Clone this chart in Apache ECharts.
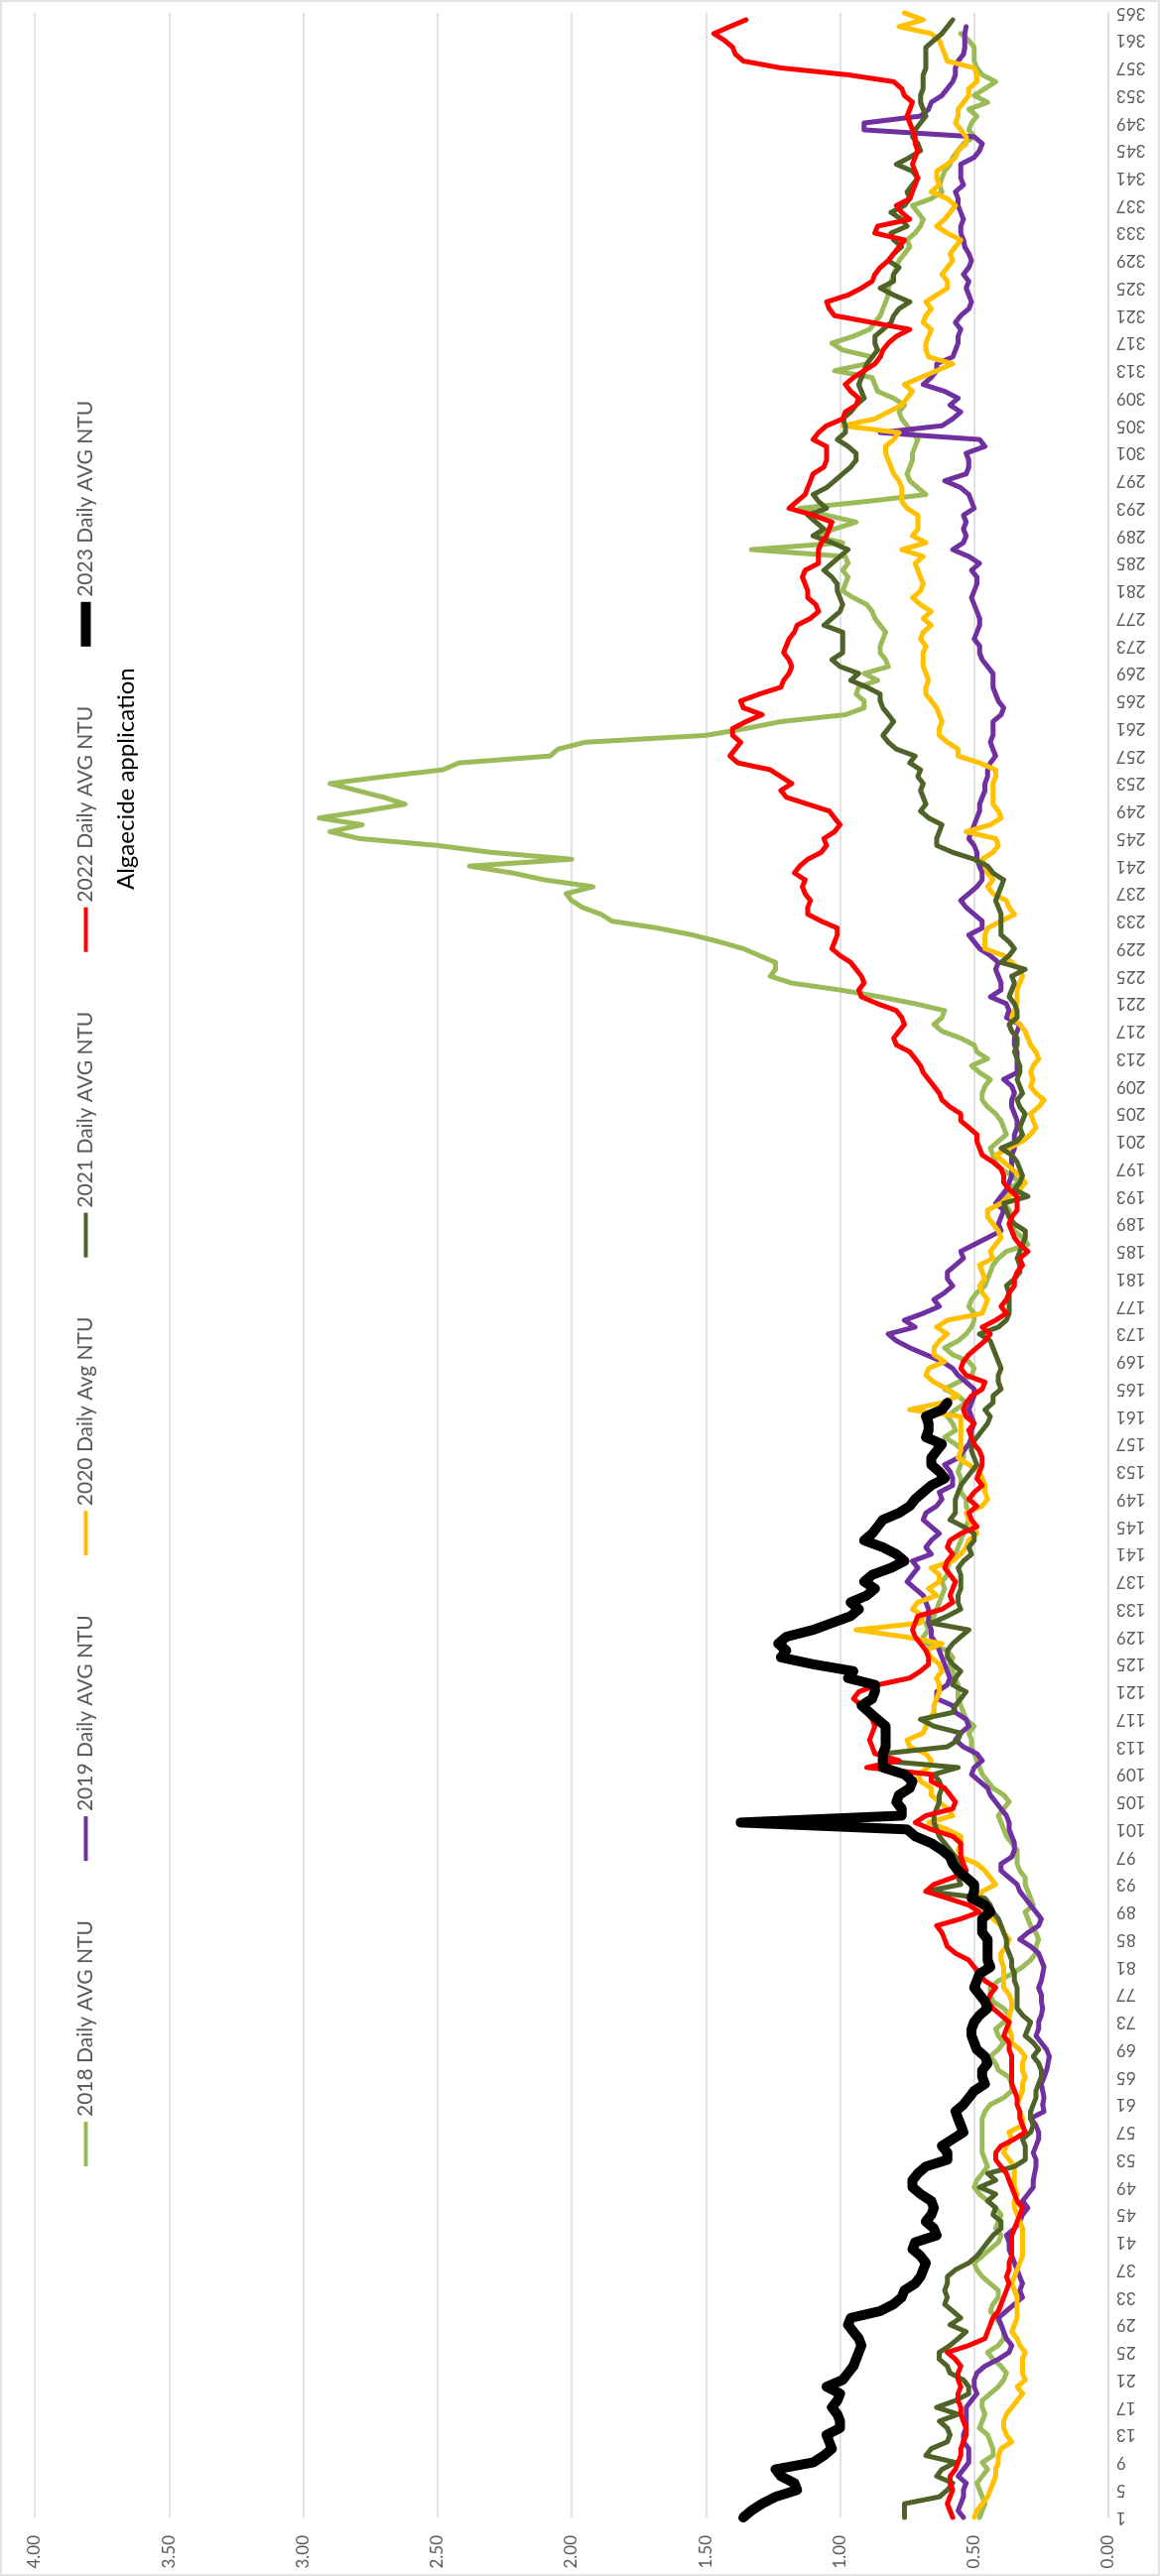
<!DOCTYPE html>
<html>
<head>
<meta charset="utf-8">
<title>Daily AVG NTU</title>
<script src="https://cdn.jsdelivr.net/npm/echarts@6/dist/echarts.min.js"></script>
<style>
  html, body { margin: 0; padding: 0; width: 1169px; height: 2597px; overflow: hidden; background: #fff; }
  /* chart is drawn landscape, then turned a quarter to the left like the source picture */
  #chart {
    position: absolute; left: 0; top: 0;
    width: 2597px; height: 1169px;
    transform-origin: 0 0;
    transform: translate(0, 2597px) rotate(-90deg);
  }
</style>
</head>
<body>
<div id="chart"></div>
<script>
// day of year, 1..365 (category axis)
const days = []
for (let d = 1; d <= 365; d++) days.push(String(d))

// daily average turbidity (NTU), 10 days per row
const ntu2018 = [
  0.48,0.47,0.46,0.47,0.48,0.49,0.47,0.45,0.47,0.43,
  0.43,0.44,0.45,0.48,0.47,0.46,0.47,0.47,0.44,0.41,
  0.39,0.38,0.40,0.43,0.45,0.41,0.39,0.39,0.40,0.42,
  0.44,0.43,0.41,0.41,0.44,0.47,0.49,0.50,0.47,0.44,
  0.41,0.40,0.42,0.41,0.40,0.42,0.45,0.48,0.50,0.49,
  0.47,0.45,0.46,0.47,0.47,0.47,0.47,0.47,0.47,0.46,
  0.44,0.39,0.36,0.36,0.37,0.41,0.42,0.44,0.41,0.39,
  0.41,0.42,0.39,0.37,0.39,0.43,0.44,0.44,0.41,0.36,
  0.32,0.29,0.27,0.27,0.26,0.27,0.29,0.30,0.31,0.28,
  0.29,0.30,0.31,0.31,0.33,0.34,0.34,0.34,0.36,0.38,
  0.39,0.40,0.41,0.39,0.37,0.39,0.43,0.45,0.47,0.48,
  0.49,0.50,0.51,0.51,0.52,0.50,0.53,0.54,0.55,0.56,
  0.56,0.56,0.57,0.58,0.59,0.58,0.60,0.68,0.69,0.67,
  0.68,0.65,0.64,0.63,0.62,0.61,0.62,0.60,0.60,0.59,
  0.57,0.56,0.55,0.54,0.53,0.52,0.52,0.53,0.53,0.55,
  0.55,0.55,0.56,0.55,0.54,0.54,0.57,0.61,0.57,0.58,
  0.60,0.57,0.53,0.56,0.61,0.56,0.51,0.50,0.52,0.58,
  0.61,0.56,0.53,0.51,0.50,0.50,0.52,0.51,0.49,0.46,
  0.45,0.44,0.43,0.41,0.38,0.30,0.32,0.35,0.36,0.36,
  0.37,0.39,0.38,0.38,0.33,0.36,0.40,0.42,0.43,0.44,
  0.41,0.38,0.39,0.40,0.42,0.45,0.47,0.47,0.46,0.44,
  0.48,0.51,0.45,0.49,0.50,0.55,0.62,0.65,0.62,0.61,
  0.72,0.85,1.00,1.18,1.26,1.24,1.24,1.30,1.36,1.45,
  1.55,1.68,1.85,1.89,1.96,2.00,2.02,1.92,2.10,2.22,
  2.38,2.00,2.30,2.50,2.79,2.90,2.78,2.94,2.77,2.62,
  2.70,2.80,2.90,2.70,2.48,2.42,2.08,2.05,1.95,1.50,
  1.35,1.22,0.98,0.91,0.91,0.94,0.93,0.86,0.91,0.82,
  0.83,0.85,0.85,0.84,0.83,0.85,0.87,0.88,0.90,0.95,
  0.99,0.98,0.97,0.99,0.97,0.98,1.33,0.99,1.10,1.02,
  0.94,1.05,1.15,0.90,0.68,0.71,0.74,0.75,0.74,0.73,
  0.73,0.72,0.71,0.73,0.75,0.77,0.78,0.76,0.80,0.86,
  0.87,0.88,1.02,0.90,0.88,0.99,1.03,0.95,0.89,0.87,
  0.85,0.84,0.83,0.82,0.82,0.81,0.80,0.79,0.78,0.76,
  0.74,0.75,0.72,0.70,0.69,0.71,0.73,0.66,0.62,0.63,
  0.62,0.61,0.59,0.58,0.56,0.54,0.50,0.52,0.51,0.49,
  0.52,0.45,0.50,0.46,0.42,0.47,0.49,0.50,0.50,0.50,
  0.52,0.55,null,null,null
]

const ntu2019 = [
  0.54,0.56,0.55,0.54,0.54,0.53,0.56,0.54,0.52,0.52,
  0.52,0.54,0.54,0.53,0.53,0.53,0.53,0.51,0.49,0.50,
  0.50,0.49,0.46,0.41,0.37,0.36,0.38,0.39,0.40,0.41,
  0.38,0.35,0.32,0.33,0.32,0.33,0.34,0.35,0.36,0.37,
  0.37,0.38,0.35,0.33,0.32,0.30,0.32,0.30,0.28,0.28,
  0.275,0.27,0.27,0.28,0.27,0.26,0.26,0.27,0.29,0.24,
  0.245,0.24,0.245,0.25,0.24,0.23,0.225,0.22,0.23,0.25,
  0.27,0.26,0.26,0.25,0.245,0.25,0.25,0.26,0.25,0.245,
  0.24,0.25,0.26,0.29,0.33,0.30,0.26,0.25,0.27,0.29,
  0.31,0.33,0.34,0.37,0.40,0.40,0.36,0.35,0.35,0.36,
  0.37,0.37,0.38,0.40,0.42,0.44,0.45,0.48,0.51,0.50,
  0.47,0.49,0.54,0.57,0.55,0.52,0.53,0.57,0.58,0.64,
  0.64,0.60,0.59,0.60,0.61,0.62,0.63,0.64,0.66,0.66,
  0.67,0.67,0.67,0.68,0.69,0.72,0.75,0.73,0.71,0.73,
  0.66,0.68,0.66,0.63,0.66,0.69,0.68,0.64,0.62,0.63,
  0.58,0.58,0.59,0.61,0.56,0.54,0.52,0.51,0.51,0.50,
  0.51,0.52,0.51,0.50,0.50,0.53,0.56,0.58,0.62,0.68,
  0.74,0.79,0.82,0.72,0.76,0.69,0.63,0.65,0.61,0.58,
  0.60,0.60,0.57,0.54,0.55,0.50,0.45,0.40,0.41,0.40,
  0.39,0.42,0.40,0.38,0.37,0.36,0.36,0.36,0.36,0.35,
  0.35,0.35,0.34,0.34,0.35,0.36,0.36,0.35,0.36,0.39,
  0.34,0.34,0.34,0.34,0.35,0.35,0.34,0.33,0.38,0.37,
  0.38,0.44,0.40,0.40,0.41,0.42,0.41,0.44,0.48,0.50,
  0.52,0.47,0.47,0.50,0.53,0.55,0.52,0.49,0.47,0.47,
  0.48,0.49,0.49,0.50,0.52,0.51,0.50,0.49,0.48,0.48,
  0.47,0.46,0.46,0.45,0.45,0.44,0.42,0.43,0.44,0.43,
  0.43,0.43,0.40,0.39,0.41,0.42,0.43,0.43,0.43,0.45,
  0.47,0.48,0.48,0.50,0.49,0.48,0.48,0.49,0.50,0.51,
  0.50,0.49,0.49,0.51,0.48,0.52,0.58,0.54,0.53,0.54,
  0.53,0.54,0.50,0.51,0.52,0.55,0.61,0.53,0.52,0.52,
  0.53,0.46,0.48,0.85,0.62,0.58,0.55,0.59,0.56,0.61,
  0.69,0.66,0.64,0.64,0.58,0.57,0.56,0.56,0.55,0.57,
  0.55,0.52,0.51,0.52,0.53,0.52,0.54,0.52,0.51,0.52,
  0.535,0.54,0.55,0.55,0.54,0.55,0.56,0.56,0.57,0.54,
  0.55,0.55,0.55,0.50,0.48,0.47,0.50,0.91,0.91,0.70,
  0.67,0.66,0.62,0.60,0.58,0.57,0.57,0.56,0.54,0.535,
  0.535,0.535,0.53,null,null
]

const ntu2020 = [
  0.50,0.49,0.47,0.45,0.44,0.43,0.42,0.42,0.41,0.41,
  0.40,0.36,0.38,0.39,0.39,0.38,0.36,0.34,0.32,0.34,
  0.31,0.32,0.32,0.32,0.31,0.33,0.34,0.36,0.35,0.34,
  0.34,0.34,0.34,0.35,0.36,0.35,0.34,0.33,0.32,0.32,
  0.32,0.32,0.32,0.33,0.34,0.35,0.35,0.34,0.35,0.35,
  0.35,0.35,0.37,0.39,0.38,0.36,0.37,0.32,0.32,0.33,
  0.34,0.33,0.32,0.32,0.31,0.32,0.32,0.31,0.33,0.36,
  0.36,0.37,0.37,0.37,0.36,0.36,0.37,0.39,0.39,0.39,
  0.39,0.40,0.40,0.38,0.37,0.39,0.40,0.43,0.45,0.48,
  0.48,0.47,0.42,0.44,0.46,0.49,0.55,0.56,0.55,0.55,
  0.60,0.67,0.58,0.60,0.63,0.66,0.66,0.70,0.71,0.67,
  0.66,0.68,0.74,0.75,0.69,0.68,0.67,0.65,0.65,0.64,
  0.63,0.63,0.64,0.62,0.63,0.66,0.68,0.62,0.76,0.94,
  0.70,0.69,0.73,0.71,0.64,0.67,0.63,0.63,0.66,0.58,
  0.55,0.53,0.52,0.49,0.50,0.52,0.53,0.47,0.45,0.46,
  0.46,0.47,0.48,0.52,0.56,0.55,0.55,0.55,0.55,0.55,
  0.55,0.74,0.62,0.56,0.60,0.65,0.68,0.67,0.61,0.65,
  0.65,0.63,0.60,0.64,0.60,0.47,0.46,0.45,0.47,0.48,
  0.46,0.47,0.48,0.43,0.44,0.42,0.40,0.41,0.43,0.45,
  0.45,0.40,0.37,0.33,0.31,0.33,0.36,0.39,0.42,0.37,
  0.32,0.29,0.27,0.28,0.29,0.26,0.24,0.27,0.29,0.28,
  0.29,0.28,0.26,0.27,0.29,0.30,0.31,0.33,0.36,0.35,
  0.34,0.34,0.34,0.33,0.32,0.33,0.36,0.39,0.46,0.46,
  0.46,0.45,0.40,0.35,0.37,0.38,0.43,0.45,0.43,0.45,
  0.46,0.47,0.43,0.41,0.42,0.53,0.44,0.40,0.41,0.43,
  0.43,0.43,0.43,0.42,0.42,0.48,0.56,0.56,0.60,0.63,
  0.63,0.62,0.63,0.64,0.66,0.68,0.68,0.67,0.68,0.69,
  0.69,0.69,0.68,0.70,0.69,0.66,0.69,0.66,0.70,0.73,
  0.70,0.69,0.70,0.71,0.72,0.69,0.77,0.68,0.73,0.71,
  0.71,0.71,0.75,0.77,0.77,0.77,0.78,0.80,0.81,0.82,
  0.83,0.83,0.80,0.78,0.99,0.87,0.82,0.77,0.75,0.73,
  0.76,0.70,0.64,0.58,0.67,0.68,0.68,0.67,0.66,0.69,
  0.68,0.66,0.68,0.64,0.60,0.60,0.62,0.60,0.58,0.59,
  0.57,0.55,0.60,0.64,0.61,0.59,0.57,0.60,0.66,0.63,
  0.64,0.64,0.60,0.57,0.56,0.53,0.53,0.55,0.57,0.56,
  0.56,0.54,0.52,0.52,0.49,0.49,0.50,0.60,0.61,0.62,
  0.63,0.66,0.78,0.69,0.76
]

const ntu2021 = [
  0.76,0.76,0.76,0.63,0.60,0.58,0.64,0.62,0.57,0.68,
  0.66,0.60,0.59,0.60,0.63,0.56,0.64,0.57,0.52,0.52,
  0.54,0.59,0.60,0.63,0.63,0.59,0.56,0.53,0.59,0.55,
  0.58,0.61,0.60,0.61,0.60,0.60,0.57,0.52,0.49,0.47,
  0.45,0.43,0.40,0.40,0.43,0.42,0.45,0.42,0.48,0.42,
  0.45,0.35,0.31,0.31,0.31,0.32,0.29,0.28,0.29,0.29,
  0.28,0.27,0.27,0.26,0.25,0.25,0.26,0.28,0.26,0.28,
  0.31,0.30,0.29,0.32,0.34,0.34,0.34,0.34,0.35,0.35,
  0.36,0.36,0.37,0.38,0.38,0.39,0.40,0.41,0.43,0.44,
  0.46,0.68,0.55,0.56,0.53,0.55,0.57,0.59,0.61,0.63,
  0.64,0.65,0.65,0.64,0.63,0.63,0.62,0.63,0.65,0.56,
  0.85,0.84,0.60,0.56,0.55,0.65,0.70,0.58,0.57,0.55,
  0.53,0.58,0.57,0.55,0.58,0.60,0.60,0.58,0.55,0.52,
  0.66,0.60,0.55,0.56,0.56,0.55,0.55,0.55,0.56,0.54,
  0.51,0.52,0.50,0.50,0.54,0.59,0.57,0.57,0.57,0.56,
  0.55,0.53,0.51,0.49,0.50,0.51,0.51,0.49,0.47,0.45,
  0.44,0.46,0.43,0.43,0.40,0.41,0.41,0.40,0.41,0.42,
  0.43,0.44,0.48,0.41,0.38,0.37,0.37,0.37,0.37,0.38,
  0.35,0.33,0.33,0.34,0.33,0.32,0.31,0.31,0.35,0.37,
  0.38,0.39,0.30,0.35,0.33,0.32,0.33,0.34,0.36,0.40,
  0.34,0.32,0.33,0.32,0.31,0.33,0.34,0.32,0.33,0.34,
  0.33,0.33,0.34,0.35,0.34,0.34,0.36,0.37,0.34,0.34,
  0.35,0.37,0.36,0.35,0.36,0.31,0.40,0.37,0.35,0.37,
  0.40,0.40,0.40,0.40,0.41,0.42,0.41,0.40,0.39,0.43,
  0.45,0.50,0.58,0.64,0.64,0.63,0.62,0.67,0.70,0.68,
  0.69,0.70,0.69,0.71,0.70,0.74,0.72,0.79,0.82,0.84,
  0.82,0.80,0.82,0.84,0.85,0.85,0.90,0.96,0.93,1.00,
  1.03,0.99,0.99,0.99,0.99,1.06,1.03,1.00,0.99,1.00,
  1.01,1.01,1.03,1.06,1.03,1.00,0.97,1.03,1.10,1.06,
  1.09,1.12,1.05,1.08,1.10,1.05,1.02,0.99,0.96,0.94,
  0.94,0.97,1.01,0.98,0.98,0.99,0.96,0.94,0.91,0.92,
  0.93,0.92,0.91,0.90,0.88,0.86,0.87,0.87,0.84,0.81,
  0.80,0.78,0.74,0.80,0.85,0.80,0.80,0.78,0.82,0.80,
  0.77,0.80,0.81,0.75,0.77,0.81,0.76,0.74,0.75,0.73,
  0.71,0.73,0.79,0.74,0.70,0.71,0.73,0.72,0.70,0.68,
  0.69,0.70,0.70,0.69,0.69,0.69,0.68,0.68,0.68,0.68,
  0.65,0.62,0.60,0.58,null
]

const ntu2022 = [
  0.58,0.59,0.60,0.59,0.58,0.59,0.59,0.57,0.56,0.55,
  0.55,0.54,0.53,0.53,0.54,0.55,0.55,0.56,0.56,0.55,
  0.56,0.56,0.55,0.57,0.60,0.52,0.46,0.45,0.44,0.43,
  0.41,0.40,0.39,0.38,0.37,0.38,0.37,0.37,0.36,0.36,
  0.36,0.36,0.35,0.34,0.33,0.32,0.34,0.35,0.36,0.37,
  0.38,0.40,0.42,0.42,0.40,0.35,0.31,0.32,0.33,0.33,
  0.34,0.34,0.35,0.36,0.36,0.36,0.36,0.36,0.37,0.37,
  0.39,0.38,0.37,0.40,0.43,0.45,0.44,0.42,0.46,0.48,
  0.50,0.52,0.57,0.60,0.61,0.62,0.64,0.55,0.48,0.52,
  0.60,0.68,0.65,0.58,0.53,0.54,0.55,0.55,0.55,0.58,
  0.66,0.72,0.68,0.58,0.57,0.59,0.61,0.66,0.66,0.90,
  0.78,0.87,0.88,0.89,0.88,0.87,0.88,0.90,0.92,0.95,
  0.93,0.86,0.74,0.70,0.67,0.67,0.68,0.70,0.72,0.73,
  0.72,0.71,0.62,0.58,0.59,0.58,0.57,0.59,0.61,0.60,
  0.58,0.60,0.59,0.55,0.49,0.51,0.52,0.49,0.52,0.50,
  0.47,0.49,0.48,0.47,0.47,0.48,0.50,0.51,0.52,0.50,
  0.53,0.54,0.53,0.51,0.47,0.46,0.53,0.55,0.54,0.52,
  0.49,0.46,0.44,0.47,0.42,0.38,0.40,0.38,0.37,0.35,
  0.35,0.34,0.32,0.33,0.30,0.33,0.35,0.36,0.37,0.36,
  0.34,0.34,0.34,0.37,0.39,0.39,0.40,0.43,0.47,0.48,
  0.49,0.49,0.52,0.55,0.55,0.59,0.62,0.63,0.65,0.67,
  0.69,0.70,0.72,0.74,0.79,0.80,0.78,0.76,0.77,0.79,
  0.86,0.92,0.93,0.91,0.92,0.94,0.96,1.00,1.03,1.02,
  1.01,1.01,1.07,1.12,1.12,1.11,1.13,1.14,1.13,1.17,
  1.15,1.12,1.07,1.05,1.06,1.02,1.00,1.02,1.04,1.12,
  1.20,1.22,1.18,1.22,1.26,1.38,1.41,1.39,1.37,1.40,
  1.40,1.35,1.29,1.36,1.37,1.30,1.22,1.21,1.19,1.18,
  1.19,1.21,1.20,1.19,1.17,1.16,1.11,1.08,1.09,1.12,
  1.12,1.13,1.14,1.13,1.08,1.08,1.08,1.07,1.05,1.04,
  1.03,1.10,1.19,1.16,1.13,1.12,1.11,1.10,1.06,1.05,
  1.05,1.05,1.10,1.08,1.05,0.99,0.98,0.94,0.93,0.96,
  0.98,0.95,0.91,0.87,0.85,0.84,0.82,0.79,0.74,0.88,
  1.02,1.04,1.05,0.97,0.92,0.88,0.87,0.85,0.82,0.80,
  0.78,0.76,0.87,0.86,0.74,0.77,0.79,0.74,0.73,0.72,
  0.71,0.72,0.73,0.72,0.71,0.72,0.72,0.73,0.74,0.75,
  0.74,0.73,0.76,0.77,0.80,0.97,1.22,1.36,1.39,1.40,
  1.43,1.47,1.41,1.35,null
]

// 2023 only runs to early June
const ntu2023 = [
  1.36,1.33,1.29,1.24,1.16,1.17,1.22,1.24,1.10,1.06,
  1.03,1.04,1.05,1.00,1.00,1.01,1.03,1.01,1.00,1.05,
  0.99,0.97,0.95,0.94,0.93,0.92,0.93,0.95,0.97,0.96,
  0.85,0.80,0.77,0.76,0.72,0.70,0.69,0.68,0.70,0.73,
  0.72,0.64,0.65,0.68,0.66,0.65,0.66,0.70,0.73,0.73,
  0.71,0.68,0.60,0.60,0.62,0.58,0.54,0.55,0.56,0.57,
  0.54,0.52,0.50,0.46,0.47,0.47,0.45,0.46,0.49,0.50,
  0.51,0.51,0.50,0.48,0.45,0.46,0.48,0.50,0.49,0.48,
  0.44,0.45,0.45,0.45,0.45,0.47,0.47,0.47,0.44,0.46,
  0.51,0.50,0.50,0.53,0.56,0.58,0.59,0.62,0.66,0.72,
  0.75,1.37,0.77,0.77,0.79,0.78,0.74,0.73,0.76,0.84,
  0.84,0.84,0.83,0.83,0.83,0.83,0.86,0.89,0.92,0.88,
  0.87,0.87,0.97,0.95,1.10,1.22,1.20,1.23,1.20,1.10,
  1.03,0.96,0.93,0.96,0.90,0.87,0.91,0.88,0.81,0.76,
  0.79,0.84,0.91,0.88,0.86,0.84,0.78,0.74,0.72,0.69,
  0.66,0.61,0.63,0.66,0.66,0.64,0.62,0.68,0.67,0.67,
  0.68,0.62,0.60
]

const seriesNames = ['2018 Daily AVG NTU', '2019 Daily AVG NTU', '2020 Daily Avg NTU',
  '2021 Daily AVG NTU', '2022 Daily AVG NTU', '2023 Daily AVG NTU']
const seriesData = [ntu2018, ntu2019, ntu2020, ntu2021, ntu2022, ntu2023]
const seriesColors = ['#9bbb59', '#7030a0', '#ffc000', '#4f6228', '#ff0000', '#000000']
const lineWidths = [5, 5, 5, 5, 5, 10]

// legend swatches: a thin bar for the normal years, a fat one for 2023
// (the hair-thin rects at top and bottom only keep the box height fixed)
const thinIcon = 'path://M0,0L45,0L45,0.01L0,0.01ZM0,3L45,3L45,7L0,7ZM0,9.99L45,9.99L45,10L0,10Z'
const thickIcon = 'path://M0,0L45,0L45,10L0,10Z'
const legendText = { color: '#595959', fontSize: 21, fontFamily: 'Lato', width: 210 }

const chart = echarts.init(document.getElementById('chart'), null, { renderer: 'canvas' })

const option = {
  animation: false,
  backgroundColor: '#ffffff',
  textStyle: { fontFamily: 'Lato, "Open Sans", sans-serif' },
  title: {
    text: 'Algaecide application',
    left: 1695,
    top: 110,
    textStyle: { fontSize: 24, fontWeight: 'normal', color: '#000000', fontFamily: 'Lato' }
  },
  legend: {
    left: 408,
    top: 71,
    itemWidth: 45,
    itemHeight: 10,
    itemGap: 60,
    data: seriesNames.map((n, i) => ({
      name: n,
      icon: lineWidths[i] > 6 ? thickIcon : thinIcon,
      textStyle: legendText
    })),
    textStyle: legendText
  },
  grid: {
    left: 59,
    right: 13,
    top: 35,
    bottom: 52,
    outerBoundsMode: 'none'
  },
  xAxis: {
    type: 'category',
    data: days,
    boundaryGap: false,
    axisLine: { show: true, lineStyle: { color: '#d9d9d9', width: 1.5 } },
    axisTick: { show: false },
    // labels read upward in the landscape chart, so they end up upside down once turned
    axisLabel: { interval: 3, rotate: 90, color: '#595959', fontSize: 17, margin: 8 },
    splitLine: { show: false }
  },
  yAxis: {
    type: 'value',
    min: 0,
    max: 4,
    interval: 0.5,
    axisLine: { show: false },
    axisTick: { show: false },
    axisLabel: { color: '#595959', fontSize: 17, margin: 18, formatter: v => v.toFixed(2) },
    splitLine: { show: true, lineStyle: { color: '#d9d9d9', width: 1.5 } }
  },
  graphic: [{
    // light frame round the whole chart area
    type: 'rect',
    silent: true,
    shape: { x: 1, y: 1, width: 2595, height: 1167 },
    style: { fill: 'none', stroke: '#d9d9d9', lineWidth: 1.5 }
  }],
  series: seriesNames.map((n, i) => ({
    name: n,
    type: 'line',
    data: seriesData[i],
    symbol: 'none',
    showSymbol: false,
    connectNulls: false,
    z: 2 + i,
    itemStyle: { color: seriesColors[i] },
    lineStyle: { color: seriesColors[i], width: lineWidths[i], cap: 'round', join: 'round' }
  }))
}

chart.setOption(option)
</script>
</body>
</html>
